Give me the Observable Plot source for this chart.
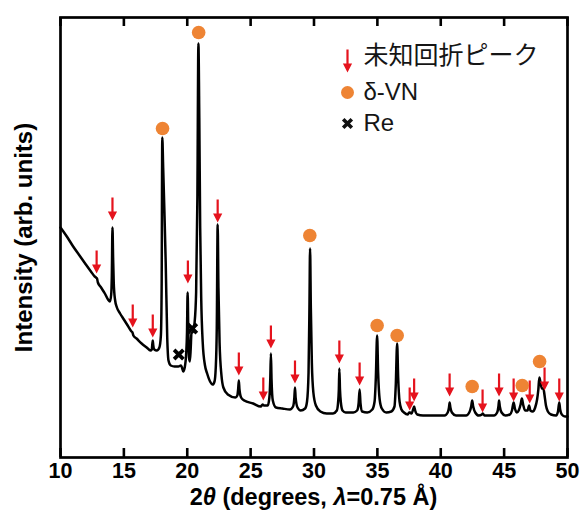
<!DOCTYPE html>
<html>
<head>
<meta charset="utf-8">
<script src="https://cdn.jsdelivr.net/npm/d3@7"></script>
<script src="https://cdn.jsdelivr.net/npm/@observablehq/plot@0.6"></script>
<style>
  body { margin: 0; background: #fff; }
  #chart svg { display: block; }
</style>
</head>
<body>
<div id="chart"></div>
<script>
// Powder XRD pattern: [2θ (deg), intensity (arb. units)]
const pattern = [
  [10.0, 230], [10.5, 221], [11.0, 211], [11.5, 202], [12.0, 193], [12.4, 186],
  [12.7, 181], [12.8, 180], [12.88, 179], [12.95, 175], [13.2, 170], [13.5, 164],
  [13.75, 158], [13.9, 156], [14.0, 163], [14.05, 182], [14.1, 230], [14.15, 200],
  [14.2, 175], [14.3, 158], [14.45, 150], [14.7, 144], [15.0, 138], [15.3, 132],
  [15.6, 126], [15.68, 125], [15.75, 122], [16.0, 119], [16.4, 114], [16.8, 110],
  [17.1, 107], [17.2, 108], [17.25, 114], [17.28, 117], [17.32, 112], [17.4, 108],
  [17.6, 107], [17.8, 110], [17.92, 122], [17.98, 170], [18.03, 320], [18.1, 290],
  [18.2, 245], [18.3, 195], [18.42, 120], [18.52, 97], [18.7, 92], [19.0, 91],
  [19.3, 91], [19.5, 92], [19.58, 90], [19.68, 86], [19.8, 90], [19.92, 105],
  [19.98, 125], [20.03, 165], [20.08, 130], [20.14, 100], [20.2, 96], [20.27, 108],
  [20.33, 124], [20.45, 126], [20.58, 135], [20.7, 165], [20.8, 260], [20.88, 414],
  [20.95, 340], [21.02, 230], [21.1, 160], [21.22, 115], [21.4, 92], [21.57, 84],
  [21.8, 76], [22.0, 73], [22.15, 76], [22.25, 90], [22.33, 130], [22.4, 233],
  [22.46, 170], [22.55, 115], [22.7, 82], [22.85, 70], [23.2, 63], [23.8, 60],
  [23.95, 62], [24.02, 69], [24.07, 77], [24.12, 68], [24.25, 60], [24.5, 57],
  [25.2, 54], [25.8, 51], [25.95, 53], [26.05, 52], [26.35, 52], [26.48, 60],
  [26.55, 78], [26.6, 104], [26.65, 78], [26.75, 57], [27.0, 50], [27.5, 49],
  [28.1, 48], [28.35, 51], [28.45, 60], [28.5, 70], [28.55, 60], [28.7, 50],
  [28.95, 47], [29.3, 49], [29.45, 56], [29.57, 85], [29.64, 150], [29.69, 209],
  [29.75, 150], [29.83, 95], [29.95, 65], [30.15, 52], [30.5, 46], [31.0, 44],
  [31.5, 44], [31.8, 47], [31.9, 55], [31.96, 68], [32.0, 89], [32.05, 68],
  [32.12, 55], [32.25, 47], [32.5, 45], [33.1, 45], [33.4, 47], [33.52, 54],
  [33.6, 68], [33.67, 54], [33.8, 46], [34.2, 45], [34.6, 48], [34.78, 56],
  [34.88, 80], [34.98, 122], [35.06, 85], [35.18, 58], [35.35, 49], [35.7, 45],
  [36.1, 46], [36.35, 51], [36.45, 72], [36.56, 114], [36.64, 80], [36.75, 56],
  [36.9, 48], [37.1, 45], [37.4, 43], [37.5, 45], [37.58, 45], [37.7, 44],
  [37.82, 48], [37.9, 51], [37.98, 47], [38.15, 43], [38.6, 42], [39.5, 42],
  [40.3, 42], [40.55, 45], [40.65, 50], [40.7, 55], [40.76, 50], [40.88, 45],
  [41.2, 42], [42.0, 42], [42.25, 45], [42.4, 51], [42.48, 57], [42.56, 51],
  [42.72, 45], [43.0, 42], [43.25, 43], [43.32, 44], [43.45, 42], [44.2, 42],
  [44.45, 45], [44.55, 51], [44.6, 57], [44.66, 51], [44.8, 45], [45.1, 42],
  [45.45, 43], [45.62, 47], [45.75, 55], [45.85, 49], [46.0, 45], [46.15, 47],
  [46.3, 53], [46.4, 59], [46.5, 53], [46.65, 47], [46.85, 47], [46.97, 52],
  [47.07, 47], [47.25, 46], [47.45, 50], [47.6, 58], [47.7, 68], [47.78, 80],
  [47.88, 74], [47.98, 69], [48.1, 69], [48.18, 63], [48.3, 52], [48.45, 46],
  [48.7, 43], [49.1, 42], [49.25, 46], [49.35, 55], [49.42, 48], [49.55, 43],
  [49.8, 41], [50.0, 41]
];

// Unidentified reflections: [2θ, arrow tip intensity]
const unknownPeaks = [
  [12.85, 184], [14.1, 237], [15.7, 130], [17.28, 120], [20.05, 174],
  [22.4, 235], [24.07, 82], [26.0, 57], [26.6, 109], [28.5, 74],
  [32.0, 94], [33.6, 72], [37.55, 47], [37.9, 56], [40.7, 61],
  [43.3, 45], [44.6, 61], [45.75, 56], [47.02, 54], [48.19, 67], [49.35, 56]
];

// δ-VN reflections: [2θ, marker intensity]
const vnPeaks = [
  [18.05, 329], [20.9, 425], [29.67, 222], [34.98, 132],
  [36.56, 122], [42.48, 71], [46.43, 72], [47.8, 96]
];

// Re reflections: [2θ, marker intensity]
const rePeaks = [[19.33, 103], [20.39, 129]];

const xTicks = [10, 15, 20, 25, 30, 35, 40, 45, 50];
const legendLabels = ["未知回折ピーク", "δ-VN", "Re"];

const RED = "#e5131d";
const ORANGE = "#ee8434";
const FONT = "'Liberation Sans', Arial, 'Noto Sans CJK JP', sans-serif";

// Downward arrow whose tip sits at the anchor point
const downArrow = {
  draw(ctx) {
    ctx.moveTo(-1.1, -23);
    ctx.lineTo(1.1, -23);
    ctx.lineTo(1.1, -9);
    ctx.lineTo(4.6, -9);
    ctx.lineTo(0, 0);
    ctx.lineTo(-4.6, -9);
    ctx.lineTo(-1.1, -9);
    ctx.closePath();
  }
};

const W = 581, H = 514;
const mL = 60, mR = 14, mT = 17, mB = 57;
const frameH = H - mT - mB;
const tickLen = 9;

// legend row offsets from the top-left corner of the frame
const legendSymbolDx = 287;
const legendTextDx = 303;
const legendRowDy = [38, 75, 106];

const legendMarks = [
  Plot.dot([0], {frameAnchor: "top-left", dx: legendSymbolDx, dy: legendRowDy[0] + 17,
    symbol: downArrow, fill: RED, stroke: "none"}),
  Plot.dot([0], {frameAnchor: "top-left", dx: legendSymbolDx, dy: legendRowDy[1],
    r: 6.5, fill: ORANGE, stroke: "none"}),
  Plot.dot([0], {frameAnchor: "top-left", dx: legendSymbolDx, dy: legendRowDy[2],
    symbol: "times", r: 4, stroke: "#111", strokeWidth: 3.6}),
  ...legendLabels.map((label, i) =>
    Plot.text([label], {frameAnchor: "top-left", dx: legendTextDx, dy: legendRowDy[i],
      text: d => d, textAnchor: "start", lineAnchor: "middle",
      fontSize: i === 0 ? 25 : 24, fill: "#151515", fontFamily: FONT}))
];

const chart = Plot.plot({
  width: W,
  height: H,
  marginLeft: mL,
  marginRight: mR,
  marginTop: mT,
  marginBottom: mB,
  style: {fontFamily: FONT, background: "#fff", color: "#000"},
  x: {domain: [10, 50]},
  y: {domain: [0, 440], axis: null},
  marks: [
    Plot.line(pattern, {x: d => d[0], y: d => d[1], stroke: "#000",
      strokeWidth: 2.5, curve: "monotone-x", strokeLinejoin: "round"}),
    Plot.dot(unknownPeaks, {x: d => d[0], y: d => d[1], symbol: downArrow,
      fill: RED, stroke: "none"}),
    Plot.dot(vnPeaks, {x: d => d[0], y: d => d[1], r: 6.8, fill: ORANGE, stroke: "none"}),
    Plot.dot(rePeaks, {x: d => d[0], y: d => d[1], symbol: "times", r: 4.3,
      stroke: "#000", strokeWidth: 3.8}),
    ...legendMarks,
    // inward ticks, bottom and top
    Plot.ruleX(xTicks, {x: d => d, insetTop: frameH - tickLen, stroke: "#000", strokeWidth: 2.6}),
    Plot.ruleX(xTicks, {x: d => d, insetBottom: frameH - tickLen, stroke: "#000", strokeWidth: 2.6}),
    Plot.frame({stroke: "#000", strokeWidth: 2.7}),
    Plot.axisX({ticks: xTicks, tickSize: 0, tickPadding: 5, label: null,
      fontSize: 21.5, fontWeight: "bold", fill: "#000", tickFormat: d => String(d)}),
    Plot.text(["Intensity (arb. units)"], {frameAnchor: "left", dx: -36, rotate: -90,
      text: d => d, textAnchor: "middle", lineAnchor: "middle",
      fontSize: 24, fontWeight: "bold", fill: "#000"})
  ]
});

document.getElementById("chart").appendChild(chart);

// x-axis title with italic θ and λ
const title = d3.select(chart).append("text")
  .attr("x", mL + (W - mL - mR) / 2)
  .attr("y", 505)
  .attr("text-anchor", "middle")
  .attr("font-family", FONT)
  .attr("font-size", 23.5)
  .attr("font-weight", "bold")
  .attr("fill", "#000");
title.append("tspan").text("2");
title.append("tspan").attr("font-style", "italic").text("θ");
title.append("tspan").text(" (degrees, ");
title.append("tspan").attr("font-style", "italic").text("λ");
title.append("tspan").text("=0.75 Å)");
</script>
</body>
</html>
